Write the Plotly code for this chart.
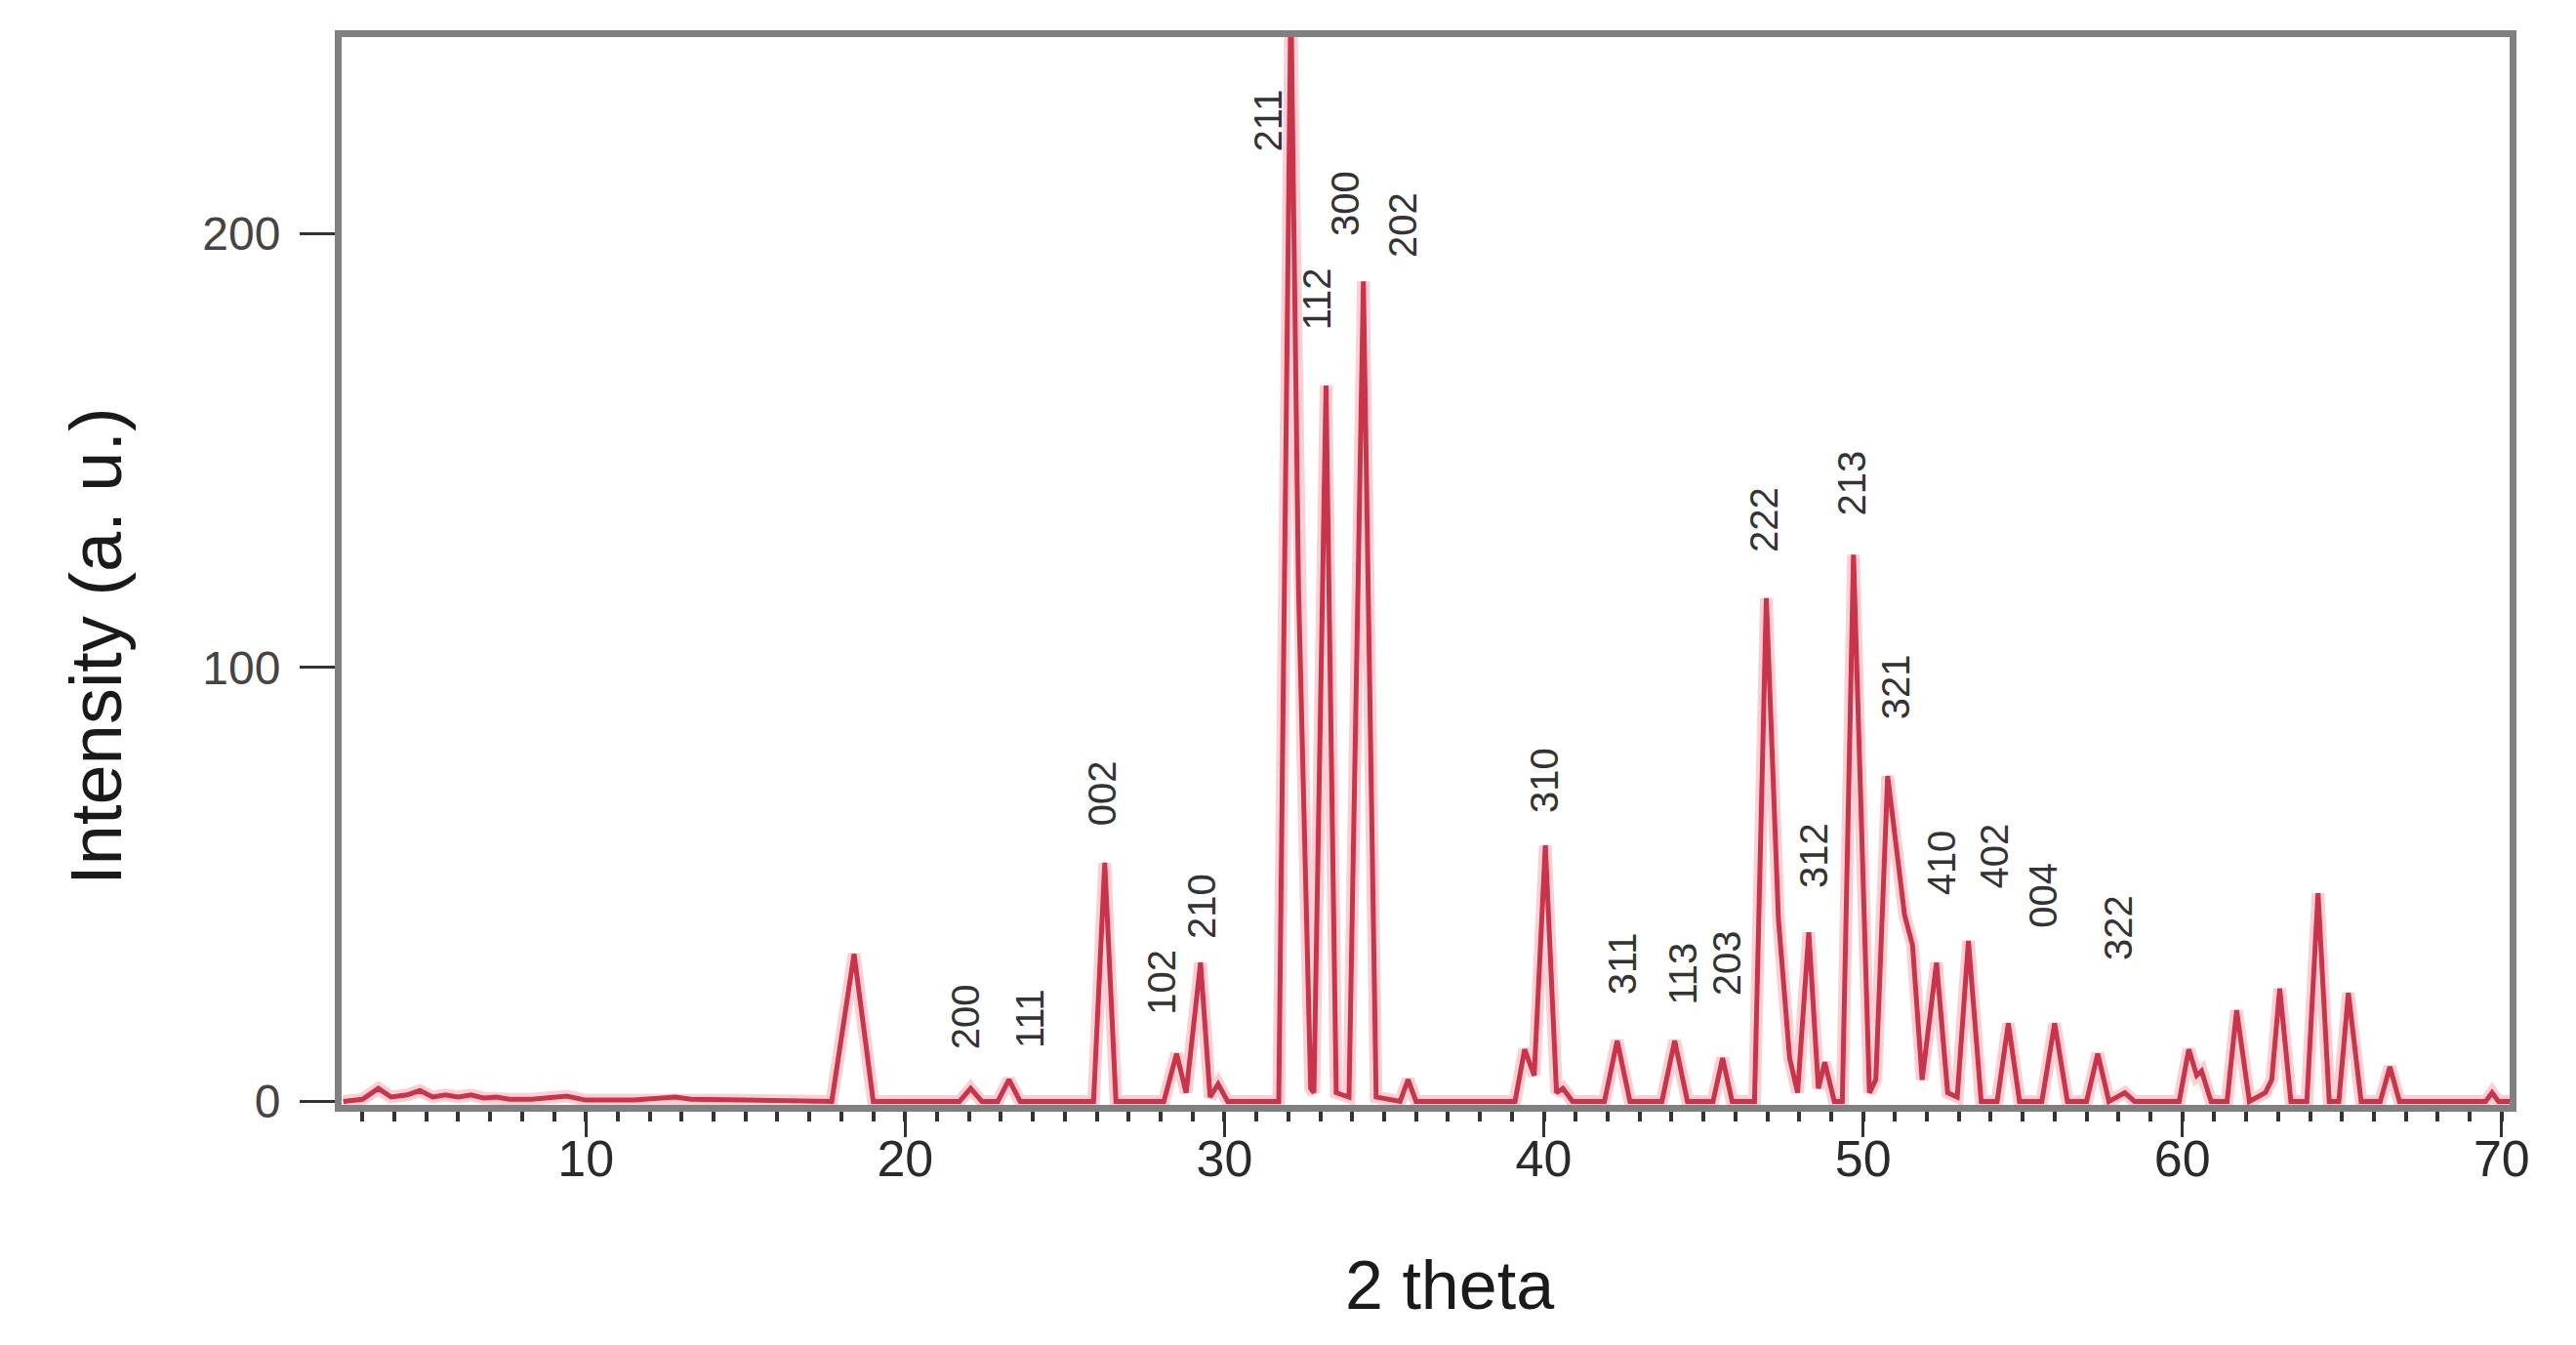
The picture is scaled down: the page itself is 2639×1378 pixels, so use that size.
import plotly.graph_objects as go

# ---- data (2 theta, intensity) ----
two_theta = [2.4, 3.0, 3.5, 3.9, 4.4, 4.8, 5.2, 5.6, 6.0, 6.4, 6.8, 7.2, 7.6, 8.3, 9.4, 10.0,
             11.5, 12.8, 13.3, 14.8, 17.7, 18.4, 19.0, 21.7, 22.05, 22.4, 22.9, 23.25, 23.6,
             25.9, 26.25, 26.6, 28.1, 28.5, 28.8, 29.25, 29.55, 29.8, 30.1, 31.7, 32.08, 32.32,
             32.45, 32.7, 32.8, 33.18, 33.5, 33.9, 34.35, 34.75, 35.5, 35.75, 36.0, 39.1, 39.4,
             39.7, 40.05, 40.4, 40.6, 40.9, 41.9, 42.3, 42.7, 43.7, 44.1, 44.5, 45.3, 45.6, 45.9,
             46.6, 46.97, 47.35, 47.7, 47.95, 48.3, 48.6, 48.8, 49.1, 49.35, 49.7, 50.2, 50.4,
             50.77, 51.3, 51.55, 51.85, 52.3, 52.65, 52.95, 53.3, 53.7, 54.2, 54.55, 54.9, 55.6,
             56.0, 56.4, 57.0, 57.35, 57.7, 58.2, 58.5, 59.9, 60.2, 60.45, 60.6, 60.9, 61.4, 61.7,
             62.1, 62.6, 62.8, 63.05, 63.4, 63.9, 64.25, 64.6, 64.9, 65.2, 65.6, 66.2, 66.5, 66.8,
             69.5, 69.7, 69.9, 70.25]
intensity = [0, 0.5, 3, 1, 1.5, 2.5, 1, 1.5, 1, 1.5, 0.8, 1, 0.5, 0.5, 1.2, 0.3,
             0.3, 1.0, 0.5, 0.3, 0, 34, 0, 0, 3, 0, 0, 5, 0,
             0, 55, 0, 0, 11, 2, 32, 1, 4, 0, 0, 255, 118,
             80, 3, 2, 165, 2, 1, 189, 1, 0, 5, 0, 0, 12,
             6, 59, 2, 3, 0, 0, 14, 0, 0, 14, 0, 0, 10, 0,
             0, 116, 42, 10, 2, 39, 3, 9, 0, 0, 126, 2, 5,
             75, 43, 36, 5, 32, 2, 1, 37, 0, 0, 18, 0, 0,
             18, 0, 0, 11, 0, 2, 0, 0, 12, 6, 7, 0, 0, 21,
             0, 2, 5, 26, 0, 0, 48, 0, 0, 25, 0, 0, 8, 0,
             0, 2, 0, 0]

# hkl labels: text, 2theta position, intensity position
hkl_labels = ["200", "111", "002", "102", "210", "211", "112", "300", "202", "310", "311",
              "113", "203", "222", "312", "213", "321", "410", "402", "004", "322"]
hkl_x = [21.88, 23.9, 26.15, 28.05, 29.3, 31.35, 32.9, 33.8, 35.6, 40.03, 42.45,
         44.35, 45.73, 46.9, 48.46, 49.64, 51.03, 52.47, 54.1, 55.65, 57.97]
hkl_y = [19.6, 19.2, 71, 27.5, 45, 226, 185, 207, 202, 74, 31.7,
         29.4, 32, 134, 56.6, 142.6, 95.5, 55, 56.6, 47.5, 40]

x_ticks = [10, 20, 30, 40, 50, 60, 70]
y_ticks = [0, 100, 200]

fig = go.Figure()
# soft halo under the line
fig.add_trace(go.Scatter(x=two_theta, y=intensity, mode="lines",
                         line=dict(color="rgba(240,120,135,0.35)", width=13),
                         hoverinfo="skip", showlegend=False))
fig.add_trace(go.Scatter(x=two_theta, y=intensity, mode="lines",
                         line=dict(color="#c9344a", width=5),
                         showlegend=False))

for t, xx, yy in zip(hkl_labels, hkl_x, hkl_y):
    fig.add_annotation(x=xx, y=yy, xref="x", yref="y", text=t, showarrow=False,
                       textangle=-90,
                       font=dict(family="Liberation Sans Narrow, Arial Narrow, Liberation Sans, Arial",
                                 size=40, color="#333333"))

# axis titles as annotations (positioned as in the reference)
fig.add_annotation(x=0.511, y=-0.169, xref="paper", yref="paper", text="2 theta",
                   showarrow=False, xanchor="center", yanchor="middle",
                   font=dict(family="Liberation Sans, Arial", size=70, color="#1a1a1a"))
fig.add_annotation(x=-0.113, y=0.429, xref="paper", yref="paper", text="Intensity (a. u.)",
                   showarrow=False, xanchor="center", yanchor="middle", textangle=-90,
                   font=dict(family="Liberation Sans, Arial", size=74, color="#1a1a1a"))

fig.update_xaxes(range=[2.35, 70.25], tickvals=x_ticks, ticktext=[str(v) for v in x_ticks],
                 showgrid=False, zeroline=False,
                 showline=True, linecolor="#808080", linewidth=7, mirror=True,
                 ticks="outside", ticklen=26, tickwidth=3, tickcolor="#333333",
                 ticklabelstandoff=-22,
                 minor=dict(dtick=1, tick0=0, ticks="outside", ticklen=10, tickwidth=4,
                            tickcolor="#333333", showgrid=False),
                 tickfont=dict(family="Liberation Sans, Arial", size=52, color="#2a2a2a"))
fig.update_yaxes(range=[-0.8, 245.3], tickvals=y_ticks, ticktext=[str(v) for v in y_ticks],
                 showgrid=False, zeroline=False,
                 showline=True, linecolor="#808080", linewidth=7, mirror=True,
                 ticks="outside", ticklen=36, tickwidth=3, tickcolor="#333333",
                 ticklabelstandoff=10,
                 tickfont=dict(family="Liberation Sans, Arial", size=48, color="#444444"))

fig.update_layout(width=2639, height=1378, plot_bgcolor="white", paper_bgcolor="white",
                  margin=dict(l=342, r=76, t=30, b=254), showlegend=False)

fig.write_html("out.html")
